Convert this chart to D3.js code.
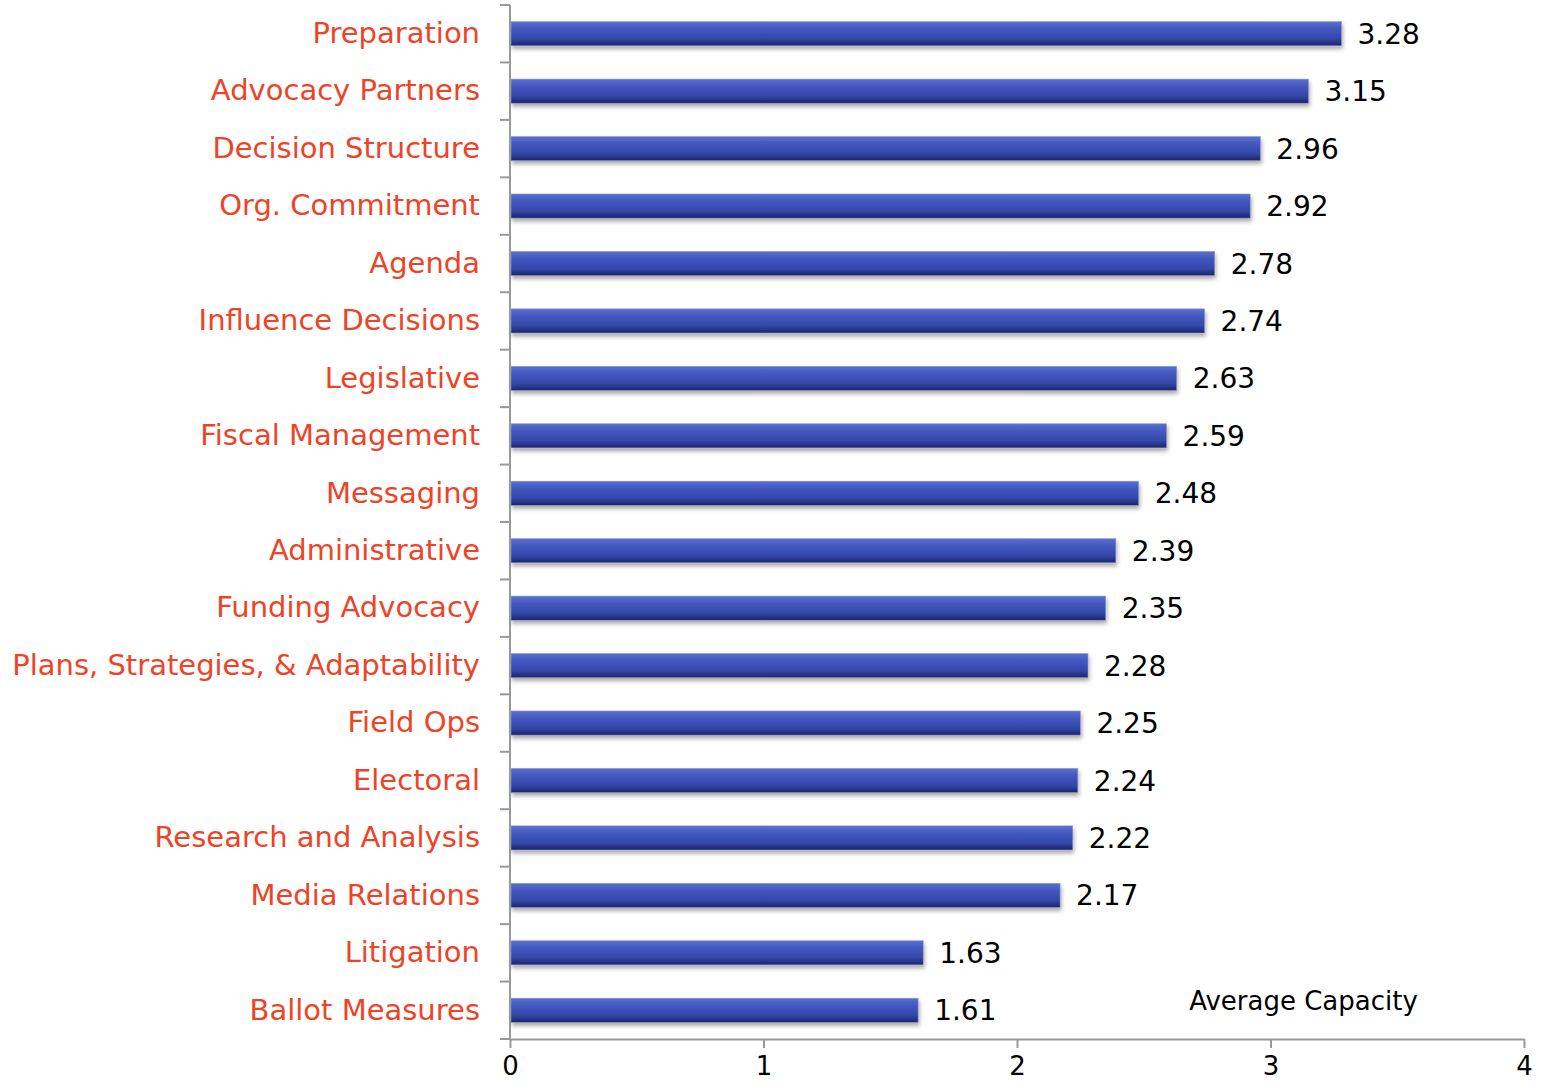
<!DOCTYPE html>
<html>
<head>
<meta charset="utf-8">
<script src="https://cdn.jsdelivr.net/npm/d3@7"></script>
<style>
  body { margin: 0; background: #fff; }
  text { font-family: "DejaVu Sans", Verdana, sans-serif; }
</style>
</head>
<body>
<div id="chart"></div>
<script>
var categories = ["Preparation", "Advocacy Partners", "Decision Structure", "Org. Commitment",
    "Agenda", "Influence Decisions", "Legislative", "Fiscal Management", "Messaging",
    "Administrative", "Funding Advocacy", "Plans, Strategies, & Adaptability", "Field Ops",
    "Electoral", "Research and Analysis", "Media Relations", "Litigation", "Ballot Measures"];
var values = [3.28, 3.15, 2.96, 2.92, 2.78, 2.74, 2.63, 2.59, 2.48, 2.39, 2.35, 2.28,
    2.25, 2.24, 2.22, 2.17, 1.63, 1.61];
var xTicks = [0, 1, 2, 3, 4];
var axisTitle = "Average Capacity";

var width = 1547;
var height = 1085;
var margin = { left: 510, right: 23, top: 5, bottom: 46 };

var svg = d3.select("#chart").
    append("svg").
    attr("width", width).
    attr("height", height);

var defs = svg.append("defs");
var grad = defs.append("linearGradient").
    attr("id", "barGrad").
    attr("x1", 0).attr("y1", 0).attr("x2", 0).attr("y2", 1);
grad.append("stop").attr("offset", "0%").attr("stop-color", "#5a6fcf");
grad.append("stop").attr("offset", "30%").attr("stop-color", "#4358c0");
grad.append("stop").attr("offset", "70%").attr("stop-color", "#3447aa");
grad.append("stop").attr("offset", "100%").attr("stop-color", "#1c2468");

var shadow = defs.append("filter").
    attr("id", "shadow").
    attr("x", "-5%").attr("y", "-30%").attr("width", "110%").attr("height", "180%");
shadow.append("feDropShadow").
    attr("dx", 1).attr("dy", 3).
    attr("stdDeviation", 2).
    attr("flood-color", "#000").
    attr("flood-opacity", 0.35);

var xScale = d3.scaleLinear().
    domain([0, 4]).
    range([margin.left, width - margin.right]);

var yScale = d3.scaleBand().
    domain(categories).
    range([margin.top, height - margin.bottom]).
    paddingInner(0.58).
    paddingOuter(0.29);

var bandStep = yScale.step();

// bars
svg.selectAll("rect.bar").
    data(values).
    enter().
    append("rect").
    attr("class", "bar").
    attr("x", xScale(0) + 1).
    attr("y", function (d, i) { return yScale(categories[i]); }).
    attr("width", function (d) { return xScale(d) - xScale(0) - 1; }).
    attr("height", yScale.bandwidth()).
    attr("fill", "url(#barGrad)").
    attr("stroke", "#8f99c8").
    attr("stroke-width", 0.6).
    attr("filter", "url(#shadow)");

// value labels
svg.selectAll("text.value").
    data(values).
    enter().
    append("text").
    attr("class", "value").
    attr("x", function (d) { return xScale(d) + 16; }).
    attr("y", function (d, i) { return yScale(categories[i]) + yScale.bandwidth() / 2; }).
    attr("dy", "0.36em").
    attr("font-size", 28).
    attr("fill", "#000").
    text(function (d) { return d.toFixed(2); });

// y axis: line with ticks on band boundaries
var yAxisG = svg.append("g").attr("class", "y-axis");
yAxisG.append("line").
    attr("x1", margin.left).attr("x2", margin.left).
    attr("y1", margin.top).attr("y2", height - margin.bottom).
    attr("stroke", "#999").attr("stroke-width", 2);
var boundaries = d3.range(categories.length + 1);
yAxisG.selectAll("line.tick").
    data(boundaries).
    enter().
    append("line").
    attr("class", "tick").
    attr("x1", margin.left - 10).attr("x2", margin.left).
    attr("y1", function (d) { return margin.top + d * bandStep; }).
    attr("y2", function (d) { return margin.top + d * bandStep; }).
    attr("stroke", "#999").attr("stroke-width", 2);
yAxisG.selectAll("text").
    data(categories).
    enter().
    append("text").
    attr("x", margin.left - 30).
    attr("y", function (d) { return yScale(d) + yScale.bandwidth() / 2; }).
    attr("dy", "0.32em").
    attr("text-anchor", "end").
    attr("font-size", 29).
    attr("fill", "#ee4327").
    text(function (d) { return d; });

// x axis
var xAxis = d3.axisBottom(xScale).
    tickValues(xTicks).
    tickSize(9).
    tickSizeOuter(0).
    tickFormat(d3.format("d"));

var xAxisG = svg.append("g").
    attr("transform", "translate(0," + (height - margin.bottom) + ")").
    call(xAxis);
xAxisG.select(".domain").attr("stroke", "#999").attr("stroke-width", 2);
xAxisG.selectAll(".tick line").attr("stroke", "#999").attr("stroke-width", 2);
xAxisG.selectAll(".tick text").
    attr("font-family", "'Liberation Sans', Arial, sans-serif").
    attr("font-size", 26).
    attr("fill", "#000").
    attr("y", 18).
    attr("dy", "0.71em");

svg.append("text").
    attr("x", xScale(3.13)).
    attr("y", height - margin.bottom - 38).
    attr("dy", "0.36em").
    attr("text-anchor", "middle").
    attr("font-size", 26).
    attr("fill", "#000").
    text(axisTitle);
</script>
</body>
</html>
